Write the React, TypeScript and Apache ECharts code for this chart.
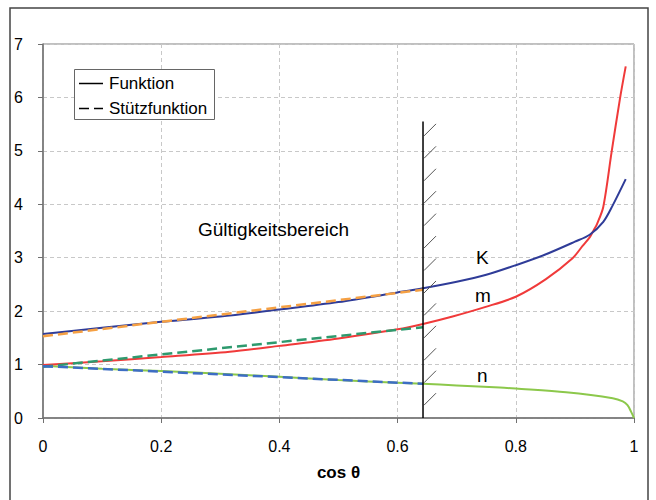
import React, { useEffect, useRef } from "react";
import * as echarts from "echarts";

// Funktion (solid)
const kData: [number, number][] = [
  [0, 1.57], [0.1, 1.69], [0.2, 1.8], [0.3, 1.9], [0.4, 2.03], [0.5, 2.17],
  [0.6, 2.35], [0.643, 2.43], [0.7, 2.55], [0.75, 2.68], [0.8, 2.86],
  [0.85, 3.06], [0.9, 3.3], [0.925, 3.43], [0.948, 3.67], [0.964, 3.98], [0.986, 4.47],
];
const mData: [number, number][] = [
  [0, 0.99], [0.1, 1.06], [0.2, 1.14], [0.316, 1.24], [0.4, 1.35], [0.5, 1.49],
  [0.6, 1.66], [0.643, 1.76], [0.693, 1.9], [0.749, 2.08], [0.8, 2.27],
  [0.851, 2.6], [0.896, 2.99], [0.913, 3.22], [0.925, 3.38], [0.932, 3.52],
  [0.937, 3.62], [0.948, 3.95], [0.962, 4.97], [0.976, 5.96], [0.986, 6.58],
];
const nData: [number, number][] = [
  [0, 0.98], [0.1, 0.92], [0.2, 0.88], [0.316, 0.82], [0.4, 0.77], [0.5, 0.71],
  [0.6, 0.66], [0.643, 0.64], [0.7, 0.61], [0.773, 0.57], [0.8, 0.55],
  [0.885, 0.48], [0.964, 0.37], [0.981, 0.31], [0.989, 0.24], [0.995, 0.12], [1.0, 0],
];
// Stützfunktion (dashed)
const kSupport: [number, number][] = [[0, 1.53], [0.643, 2.4]];
const mSupport: [number, number][] = [[0, 0.96], [0.643, 1.7]];
const nSupport: [number, number][] = [[0, 0.97], [0.643, 0.64]];

// validity limit
const cutoff = 0.643;
const cutoffTop = 5.55;
const hatchYs = [0.24, 0.66, 1.08, 1.5, 1.92, 2.34, 2.76, 3.18, 3.6, 4.02, 4.44, 4.86, 5.28];

const xTicks = { min: 0, max: 1, interval: 0.2 };
const yTicks = { min: 0, max: 7, interval: 1 };

const FONT = "Liberation Sans, Arial, sans-serif";

export default function App() {
  const ref = useRef<HTMLDivElement>(null);
  useEffect(() => {
    if (!ref.current) return;
    const chart = echarts.init(ref.current, undefined, { renderer: "svg" });
    const dashed = (data: [number, number][], color: string) => ({
      type: "line",
      data,
      symbol: "none",
      silent: true,
      z: 4,
      lineStyle: { color, width: 2.5, type: [10, 5] },
    });
    const solid = (data: [number, number][], color: string) => ({
      type: "line",
      data,
      symbol: "none",
      smooth: 0.3,
      silent: true,
      z: 3,
      lineStyle: { color, width: 2 },
    });
    chart.setOption({
      animation: false,
      backgroundColor: "#fff",
      textStyle: { fontFamily: FONT },
      grid: {
        left: 43, right: 22, top: 44, bottom: 82,
        show: true, borderColor: "#808080", borderWidth: 1,
      },
      xAxis: {
        type: "value",
        ...xTicks,
        name: "cos θ",
        nameLocation: "middle",
        nameGap: 46,
        nameTextStyle: { fontFamily: FONT, fontSize: 17, fontWeight: "bold", color: "#000" },
        axisLine: { show: true, lineStyle: { color: "#707070", width: 1.5 } },
        axisTick: { show: true, inside: false, length: 5, lineStyle: { color: "#707070" } },
        axisLabel: { color: "#000", fontSize: 16, fontFamily: FONT, margin: 20 },
        splitLine: { show: true, lineStyle: { color: "#c8c8c8", type: [4, 3], width: 1 } },
      },
      yAxis: {
        type: "value",
        ...yTicks,
        axisLine: { show: true, lineStyle: { color: "#707070", width: 1.5 } },
        axisTick: { show: true, inside: false, length: 5, lineStyle: { color: "#707070" } },
        axisLabel: { color: "#000", fontSize: 16, fontFamily: FONT, margin: 20 },
        splitLine: { show: true, lineStyle: { color: "#c8c8c8", type: [4, 3], width: 1 } },
      },
      series: [
        solid(nData, "#8cc84b"),
        solid(mData, "#f03a3a"),
        solid(kData, "#2f3c98"),
        dashed(kSupport, "#f5a043"),
        dashed(mSupport, "#2e9a6e"),
        dashed(nSupport, "#3d6dc4"),
        {
          type: "line",
          data: [[cutoff, 0], [cutoff, cutoffTop]],
          symbol: "none",
          silent: true,
          z: 5,
          lineStyle: { color: "#000", width: 1.5 },
        },
        {
          type: "custom",
          coordinateSystem: "cartesian2d",
          silent: true,
          z: 5,
          data: hatchYs.map((y) => [cutoff, y]),
          renderItem: (_params: any, api: any) => {
            const p = api.coord([api.value(0), api.value(1)]);
            return {
              type: "line",
              shape: { x1: p[0] + 1, y1: p[1], x2: p[0] + 13, y2: p[1] - 12 },
              style: { stroke: "#555", lineWidth: 1 },
            };
          },
        },
      ],
      graphic: [
        {
          type: "rect",
          shape: { x: 10, y: 8, width: 638, height: 500 },
          style: { fill: "none", stroke: "#444", lineWidth: 1.5 },
          silent: true,
          z: 0,
        },
        {
          type: "rect",
          shape: { x: 74.5, y: 69.5, width: 140, height: 50 },
          style: { fill: "#fff", stroke: "#666", lineWidth: 1 },
          z: 10,
        },
        { type: "line", shape: { x1: 79, y1: 83.5, x2: 103, y2: 83.5 }, style: { stroke: "#000", lineWidth: 1.5 }, z: 11 },
        { type: "line", shape: { x1: 79, y1: 108.5, x2: 103, y2: 108.5 }, style: { stroke: "#000", lineWidth: 1.5, lineDash: [10, 5] }, z: 11 },
        {
          type: "text", x: 109, y: 83.5, z: 11,
          style: { text: "Funktion", font: `17px ${FONT}`, fill: "#000", verticalAlign: "middle" },
        },
        {
          type: "text", x: 109, y: 108.5, z: 11,
          style: { text: "Stützfunktion", font: `17px ${FONT}`, fill: "#000", verticalAlign: "middle" },
        },
        {
          type: "text", x: 198, y: 229, z: 11,
          style: { text: "Gültigkeitsbereich", font: `19px ${FONT}`, fill: "#000", verticalAlign: "middle" },
        },
        { type: "text", x: 476, y: 257, z: 11, style: { text: "K", font: `19px ${FONT}`, fill: "#000", verticalAlign: "middle" } },
        { type: "text", x: 475, y: 295, z: 11, style: { text: "m", font: `19px ${FONT}`, fill: "#000", verticalAlign: "middle" } },
        { type: "text", x: 477, y: 375, z: 11, style: { text: "n", font: `19px ${FONT}`, fill: "#000", verticalAlign: "middle" } },
      ],
    });
    return () => chart.dispose();
  }, []);
  return (
    <div
      ref={ref}
      style={{ position: "fixed", left: 0, top: 0, width: 656, height: 500, background: "#fff" }}
    />
  );
}
